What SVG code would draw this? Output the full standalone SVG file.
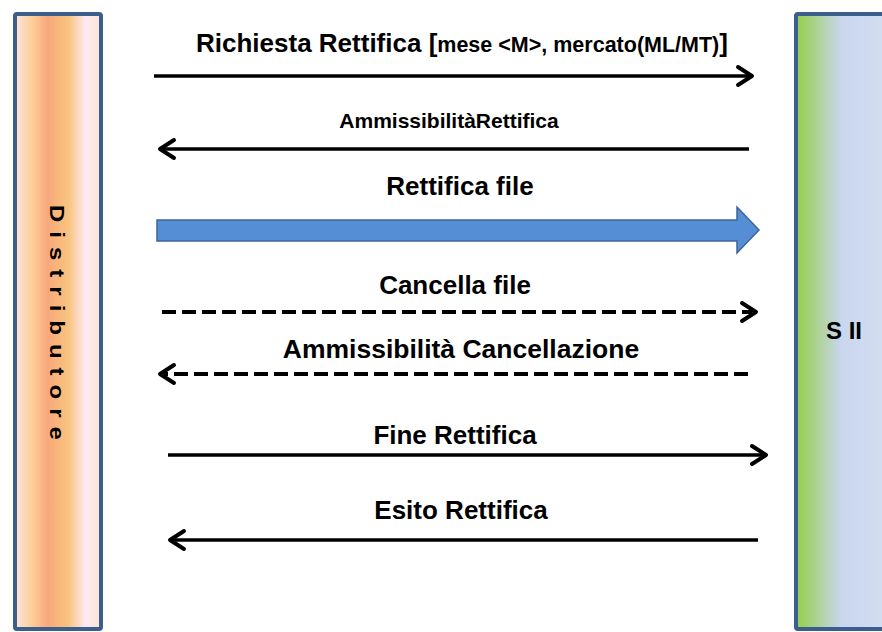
<svg xmlns="http://www.w3.org/2000/svg" width="882" height="632" viewBox="0 0 882 632">
<defs>
<linearGradient id="gL" x1="0" y1="0" x2="1" y2="0">
<stop offset="0" stop-color="#fde3dc"/>
<stop offset="0.2" stop-color="#fbcf98"/>
<stop offset="0.38" stop-color="#f9a87c"/>
<stop offset="0.62" stop-color="#f8c47c"/>
<stop offset="0.82" stop-color="#fde8f3"/>
<stop offset="1" stop-color="#fbe6d4"/>
</linearGradient>
<linearGradient id="gR" x1="0" y1="0" x2="1" y2="0">
<stop offset="0" stop-color="#92d050"/>
<stop offset="0.08" stop-color="#9dd064"/>
<stop offset="0.45" stop-color="#c9d6ee"/>
<stop offset="1" stop-color="#d5dff2"/>
</linearGradient>
<style>
.lane{stroke:#3b5e8c;stroke-width:4}
.t{font-family:"Liberation Sans",Arial,sans-serif;font-weight:bold;fill:#000}
.ln{stroke:#000;stroke-width:3.5;fill:none}
.ds{stroke:#000;stroke-width:4;fill:none;stroke-dasharray:14 6}
.hd{stroke:#000;stroke-width:4;fill:none;stroke-linecap:round;stroke-linejoin:round}
</style>
</defs>
<g id="distributore">
<rect class="lane" x="15" y="14" width="86" height="615" rx="2" fill="url(#gL)"/>
<text class="t" font-size="20" letter-spacing="7.5" transform="translate(50,205) rotate(90) scale(1.2,1)">Distributore</text>
</g>
<g id="sii">
<rect class="lane" x="796" y="14" width="100" height="615" rx="2" fill="url(#gR)"/>
<text class="t" font-size="24" x="844" y="339" text-anchor="middle">S II</text>
</g>
<g id="connectors">
<text class="t" font-size="26" x="196" y="52">Richiesta Rettifica [<tspan font-size="21.5">mese &lt;M&gt;, mercato(ML/MT)</tspan>]</text>
<line class="ln" x1="154" y1="76" x2="751" y2="76"/>
<polyline class="hd" points="738,67 752,76 738,85"/>

<text class="t" font-size="21" x="449" y="128" text-anchor="middle">AmmissibilitàRettifica</text>
<line class="ln" x1="749" y1="149" x2="162" y2="149"/>
<polyline class="hd" points="174,140 160,149 174,158"/>

<text class="t" font-size="26" x="460" y="195" text-anchor="middle">Rettifica file</text>
<polygon points="157,220 737,220 737,207 759,230 737,253 737,241 157,241" fill="#558ed5" stroke="#3c6596" stroke-width="1.5"/>

<text class="t" font-size="26" x="455" y="294" text-anchor="middle">Cancella file</text>
<line class="ds" x1="162" y1="312" x2="752" y2="312"/>
<polyline class="hd" points="742,303 756,312 742,321"/>

<text class="t" font-size="26.5" x="461" y="358" text-anchor="middle">Ammissibilità Cancellazione</text>
<line class="ds" x1="748" y1="374" x2="164" y2="374"/>
<polyline class="hd" points="174,365 160,374 174,383"/>

<text class="t" font-size="26" x="455" y="444" text-anchor="middle">Fine Rettifica</text>
<line class="ln" x1="168" y1="455" x2="764" y2="455"/>
<polyline class="hd" points="752,446 766,455 752,464"/>

<text class="t" font-size="26" x="461" y="519" text-anchor="middle">Esito Rettifica</text>
<line class="ln" x1="758" y1="540" x2="172" y2="540"/>
<polyline class="hd" points="184,531 170,540 184,549"/>
</g>
</svg>
